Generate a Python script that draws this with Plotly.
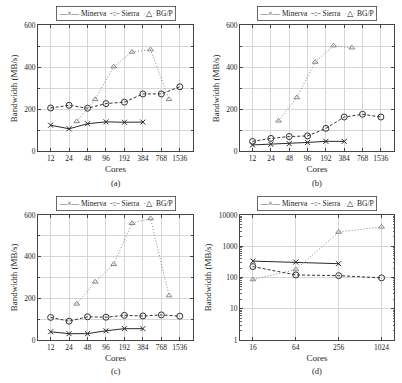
import plotly.graph_objects as go

W, H = 402, 383

# ---- data ----
cores_abc = [12, 24, 48, 96, 192, 384, 768, 1536]
cores_bgp = [32, 64, 128, 256, 512, 1024]
tick_abc = [12, 24, 48, 96, 192, 384, 768, 1536]

a_minerva = [125, 108, 132, 141, 139, 140]
a_sierra = [207, 220, 206, 228, 235, 274, 274, 308]
a_bgp = [143, 248, 404, 474, 485, 248]

b_minerva = [31, 34, 37, 43, 48, 48]
b_sierra = [48, 62, 71, 74, 110, 164, 177, 164]
b_bgp = [146, 257, 426, 504, 494]

c_minerva = [39, 30, 30, 44, 54, 54]
c_sierra = [108, 90, 111, 109, 118, 115, 120, 114]
c_bgp = [173, 279, 363, 560, 583, 213]

cores_d = [16, 64, 256, 1024]
d_minerva = [333, 310, 275]
d_sierra = [222, 120, 114, 97]
d_bgp = [86, 179, 2830, 4150]

series_names = ["Minerva", "Sierra", "BG/P"]

FONT = "Liberation Serif"
INK = "#222222"

# panel pixel boxes: (left, right, top, bottom)
boxes = [(38, 193, 22, 151), (240, 394, 22, 151), (38, 193, 216, 344), (240, 394, 216, 344)]


def dom_x(b):
    return [b[0] / W, b[1] / W]


def dom_y(b):
    return [1 - b[3] / H, 1 - b[2] / H]


styles = [
    dict(line=dict(color="#2a2a2a", width=1), marker=dict(symbol="x-thin-open", size=5, line=dict(width=1, color="#222222"))),
    dict(line=dict(color="#333333", width=1, dash="3px,2px"), marker=dict(symbol="circle-open", size=6, line=dict(width=1, color="#222222"))),
    dict(line=dict(color="#888888", width=1, dash="1px,2px"), marker=dict(symbol="triangle-up-open", size=5, line=dict(width=1, color="#222222"))),
]

fig = go.Figure()

panels = [
    ([cores_abc[:len(a_minerva)], cores_abc, cores_bgp[:len(a_bgp)]], [a_minerva, a_sierra, a_bgp]),
    ([cores_abc[:len(b_minerva)], cores_abc, cores_bgp[:len(b_bgp)]], [b_minerva, b_sierra, b_bgp]),
    ([cores_abc[:len(c_minerva)], cores_abc, cores_bgp[:len(c_bgp)]], [c_minerva, c_sierra, c_bgp]),
    ([cores_d[:len(d_minerva)], cores_d, cores_d[:len(d_bgp)]], [d_minerva, d_sierra, d_bgp]),
]

for i, (xs, ys) in enumerate(panels):
    sfx = "" if i == 0 else str(i + 1)
    for k in range(3):
        fig.add_trace(go.Scatter(
            x=xs[k], y=ys[k], mode="lines+markers", name=series_names[k],
            xaxis="x" + sfx, yaxis="y" + sfx, showlegend=False,
            line=styles[k]["line"], marker=styles[k]["marker"],
        ))

layout = dict(
    width=W, height=H, margin=dict(l=0, r=0, t=0, b=0),
    paper_bgcolor="white", plot_bgcolor="white",
    font=dict(family=FONT, size=7, color=INK),
    annotations=[],
)

captions = ["(a)", "(b)", "(c)", "(d)"]
cap_y = [183, 183, 376, 376]

legend_text = (
    "<span style='color:#333333'>—×—</span> " + series_names[0] +
    "&nbsp;&nbsp;<span style='color:#333333'>-○-</span> " + series_names[1] +
    "&nbsp;&nbsp;<span style='color:#888888'>·</span>△<span style='color:#888888'>·</span> " + series_names[2]
)

log_minor = [m * 10 ** e for e in range(0, 4) for m in range(2, 10)]

for i, b in enumerate(boxes):
    sfx = "" if i == 0 else str(i + 1)
    common = dict(showline=True, linecolor="#444444", linewidth=1, mirror="ticks",
                  ticks="inside", ticklen=3, tickcolor="#444444", tickwidth=0.8,
                  showgrid=True, gridcolor="#d6d6d6", gridwidth=0.6, zeroline=False,
                  ticklabeloverflow="allow",
                  tickfont=dict(family=FONT, size=7.5, color=INK))
    if i < 3:
        xa = dict(common, type="log", range=[0.873, 3.402], tickvals=tick_abc,
                  ticktext=[str(t) for t in tick_abc])
        ya = dict(common, range=[0, 600], tickvals=[0, 200, 400, 600],
                  minor=dict(tickvals=[100, 300, 500], showgrid=True, gridcolor="#d6d6d6", gridwidth=0.6,
                             ticks="inside", ticklen=2, tickcolor="#444444", tickwidth=0.6))
    else:
        xa = dict(common, type="log", range=[1.023, 3.185], tickvals=cores_d,
                  ticktext=[str(t) for t in cores_d])
        ya = dict(common, type="log", range=[0, 4], tickvals=[1, 10, 100, 1000, 10000],
                  ticktext=["1", "10", "100", "1000", "10000"],
                  minor=dict(tickvals=log_minor, ticks="inside", ticklen=1.5, tickcolor="#666666",
                             tickwidth=0.5, showgrid=False))
    xa.update(domain=dom_x(b), anchor="y" + sfx,
              title=dict(text="Cores", font=dict(family=FONT, size=9, color=INK), standoff=3))
    ya.update(domain=dom_y(b), anchor="x" + sfx,
              title=dict(text="Bandwidth (MB/s)", font=dict(family=FONT, size=9, color=INK), standoff=5))
    layout["xaxis" + sfx] = xa
    layout["yaxis" + sfx] = ya
    cx = (b[0] + b[1]) / 2 / W
    layout["annotations"].append(dict(
        text=legend_text, x=cx, y=1 - (b[2] - 12) / H, xref="paper", yref="paper",
        showarrow=False, font=dict(family=FONT, size=7.5, color=INK), xanchor="center", yanchor="middle",
        bordercolor="#444444", borderwidth=0.8, borderpad=2, bgcolor="white"))
    layout["annotations"].append(dict(
        text=captions[i], x=cx, y=1 - cap_y[i] / H, xref="paper", yref="paper",
        showarrow=False, font=dict(family=FONT, size=8.5, color=INK), xanchor="center", yanchor="middle"))

fig.update_layout(**layout)
fig.write_html("out.html")
